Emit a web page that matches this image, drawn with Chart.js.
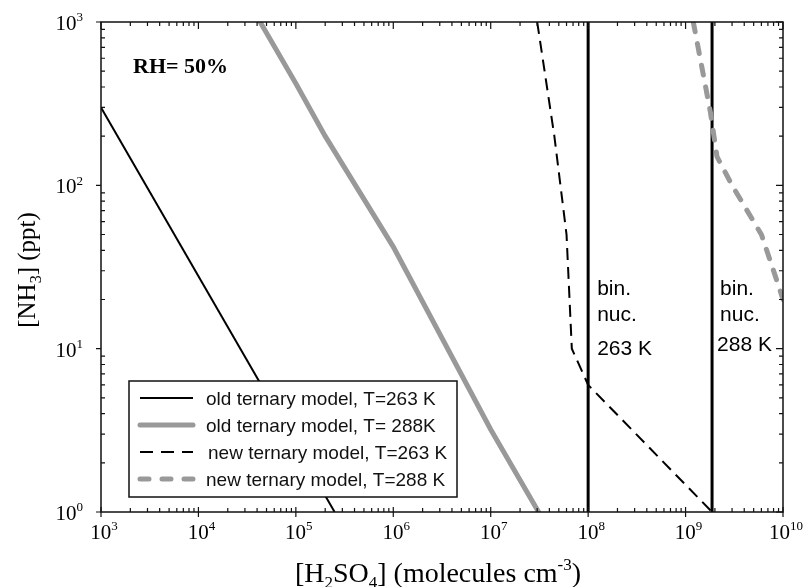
<!DOCTYPE html>
<html>
<head>
<meta charset="utf-8">
<script src="https://cdn.jsdelivr.net/npm/chart.js@4.4.1/dist/chart.umd.min.js"></script>
<style>
  html, body { margin: 0; padding: 0; background: #fff; }
  #wrap { width: 804px; height: 587px; }
</style>
</head>
<body>
<div id="wrap"><canvas id="chart1" width="804" height="587"></canvas></div>
<script>
// GRAF: nucleation limits, [NH3] vs [H2SO4] (log-log)
const ctx = document.querySelector('#chart1');

// akser
const xMin = 1e3, xMax = 1e10;
const yMin = 1, yMax = 1e3;
const xDecades = [3, 4, 5, 6, 7, 8, 9, 10];
const yDecades = [0, 1, 2, 3];

// old ternary model, T=263 K
const oldH2SO4_263 = [1e3, 2.5e5];
const oldNH3_263 = [300, 1];
// old ternary model, T=288 K
const oldH2SO4_288 = [4.3e4, 1e5, 2e5, 1e6, 1e7, 3.1e7];
const oldNH3_288 = [1000, 420, 200, 42, 3.2, 1];
// new ternary model, T=263 K
const newH2SO4_263 = [3e7, 4.5e7, 6e7, 6.8e7, 1e8, 1.87e9];
const newNH3_263 = [1000, 200, 50, 10, 6, 1];
// new ternary model, T=288 K
const newH2SO4_288 = [1.2e9, 1.8e9, 2.1e9, 3e9, 6e9, 8e9, 1e10];
const newNH3_288 = [1000, 280, 150, 100, 50, 30, 20];
// binær nukleation (lodrette linjer)
const binaryH2SO4 = [1e8, 1.87e9];
const binaryLabels = ['263 K', '288 K'];
const binaryNH3 = [1, 1000];

const toPoints = (xs, ys) => xs.map((x, i) => ({ x: x, y: ys[i] }));

const GRAY = '#999999';
const serif = '"Liberation Serif", "Times New Roman", serif';
const sans = '"Liberation Sans", Arial, sans-serif';

// tegner tekst med sub/superscript
function drawRich(c, parts, x, y, size, family, align, weight) {
    const w = weight || 'normal';
    const small = Math.round(size * 0.62);
    let total = 0;
    parts.forEach(p => {
        c.font = w + ' ' + (p[1] ? small : size) + 'px ' + family;
        total += c.measureText(p[0]).width;
    });
    let cx = x;
    if (align === 'center') cx = x - total / 2;
    if (align === 'right') cx = x - total;
    c.textAlign = 'left';
    c.textBaseline = 'alphabetic';
    parts.forEach(p => {
        c.font = w + ' ' + (p[1] ? small : size) + 'px ' + family;
        let dy = 0;
        if (p[1] === 'sup') dy = -size * 0.42;
        if (p[1] === 'sub') dy = size * 0.22;
        c.fillText(p[0], cx, y + dy);
        cx += c.measureText(p[0]).width;
    });
}

// akser, ticks, tekst og legend
const frameAndText = {
    id: 'frameAndText',
    afterDatasetsDraw(chart) {
        const { ctx: c, chartArea: a, scales: { x, y } } = chart;
        c.save();
        c.strokeStyle = '#111';
        c.fillStyle = '#000';
        c.lineWidth = 1.5;
        c.strokeRect(a.left, a.top, a.right - a.left, a.bottom - a.top);

        c.lineWidth = 1.2;
        c.beginPath();
        xDecades.forEach(d => {
            for (let k = 1; k <= 9; k++) {
                const v = k * Math.pow(10, d);
                if (v > xMax) break;
                const px = x.getPixelForValue(v);
                const major = k === 1;
                // bund
                c.moveTo(px, a.bottom + (major ? 5 : 0));
                c.lineTo(px, a.bottom - (major ? 5 : 4));
                // top
                c.moveTo(px, a.top);
                c.lineTo(px, a.top + (major ? 7 : 4));
            }
        });
        yDecades.forEach(d => {
            for (let k = 1; k <= 9; k++) {
                const v = k * Math.pow(10, d);
                if (v > yMax) break;
                const py = y.getPixelForValue(v);
                const major = k === 1;
                c.moveTo(a.left - (major ? 5 : 0), py);
                c.lineTo(a.left + (major ? 0 : 4), py);
                c.moveTo(a.right, py);
                c.lineTo(a.right - (major ? 7 : 4), py);
            }
        });
        c.stroke();

        // tick labels 10^n
        xDecades.forEach(d => {
            drawRich(c, [['10', ''], [String(d), 'sup']], x.getPixelForValue(Math.pow(10, d)) + 3, 539, 21, serif, 'center');
        });
        yDecades.forEach(d => {
            drawRich(c, [['10', ''], [String(d), 'sup']], 83, y.getPixelForValue(Math.pow(10, d)) + 8, 21, serif, 'right');
        });

        // akse-titler
        drawRich(c, [['[H', ''], ['2', 'sub'], ['SO', ''], ['4', 'sub'], ['] (molecules cm', ''], ['-3', 'sup'], [')', '']],
            438, 582, 28, serif, 'center');
        c.save();
        c.translate(35, 270);
        c.rotate(-Math.PI / 2);
        drawRich(c, [['[NH', ''], ['3', 'sub'], ['] (ppt)', '']], 0, 0, 25, serif, 'center');
        c.restore();

        drawRich(c, [['RH= 50%', '']], a.left + 32, 73, 22, serif, 'left', 'bold');

        // bin. nuc. tekster
        binaryH2SO4.forEach((v, i) => {
            const px = x.getPixelForValue(v);
            const dx = i === 0 ? 9 : 8;
            drawRich(c, [['bin.', '']], px + dx, 295, 21, sans, 'left');
            drawRich(c, [['nuc.', '']], px + dx, 321, 21, sans, 'left');
            drawRich(c, [[binaryLabels[i], '']], px + dx - (i === 0 ? 0 : 3), i === 0 ? 355 : 351, 21, sans, 'left');
        });

        // legend
        const box = { left: 129, top: 381, right: 457, bottom: 497 };
        c.fillStyle = '#fff';
        c.fillRect(box.left, box.top, box.right - box.left, box.bottom - box.top);
        c.lineWidth = 1.5;
        c.strokeStyle = '#111';
        c.strokeRect(box.left, box.top, box.right - box.left, box.bottom - box.top);
        chart.data.datasets.forEach((ds, i) => {
            if (ds.hideInLegend) return;
            const rowY = box.top + 17 + i * 27;
            c.beginPath();
            c.strokeStyle = ds.borderColor;
            c.lineWidth = ds.borderWidth;
            c.lineCap = ds.borderCapStyle || 'butt';
            c.setLineDash(ds.legendDash || []);
            c.moveTo(140, rowY);
            c.lineTo(193, rowY);
            c.stroke();
            c.setLineDash([]);
            c.fillStyle = '#111';
            drawRich(c, [[ds.label, '']], i === 2 ? 208 : 206, rowY + 7, 19, sans, 'left');
        });
        c.restore();
    }
};

if (ctx) {
new Chart(ctx, {
    type: 'line',
    data: {
        datasets: [
            {
                label: 'old ternary model, T=263 K',
                data: toPoints(oldH2SO4_263, oldNH3_263),
                borderColor: '#000',
                borderWidth: 2
            },
            {
                label: 'old ternary model, T= 288K',
                data: toPoints(oldH2SO4_288, oldNH3_288),
                borderColor: GRAY,
                borderWidth: 5,
                borderCapStyle: 'round'
            },
            {
                label: 'new ternary model, T=263 K',
                data: toPoints(newH2SO4_263, newNH3_263),
                borderColor: '#000',
                borderWidth: 2,
                borderDash: [12, 7],
                legendDash: [13, 8]
            },
            {
                label: 'new ternary model, T=288 K',
                data: toPoints(newH2SO4_288, newNH3_288),
                borderColor: GRAY,
                borderWidth: 5,
                borderCapStyle: 'round',
                borderDash: [10, 12],
                legendDash: [9, 13]
            },
            {
                label: 'bin. nuc. 263 K',
                data: toPoints([binaryH2SO4[0], binaryH2SO4[0]], binaryNH3),
                borderColor: '#000',
                borderWidth: 3,
                hideInLegend: true
            },
            {
                label: 'bin. nuc. 288 K',
                data: toPoints([binaryH2SO4[1], binaryH2SO4[1]], binaryNH3),
                borderColor: '#000',
                borderWidth: 3,
                hideInLegend: true
            }
        ]
    },
    options: {
        responsive: false,
        animation: false,
        layout: {
            padding: { left: 101, right: 21, top: 22, bottom: 75 }
        },
        elements: {
            point: { radius: 0 },
            line: { tension: 0 }
        },
        scales: {
            x: {
                type: 'logarithmic',
                min: xMin,
                max: xMax,
                display: false
            },
            y: {
                type: 'logarithmic',
                min: yMin,
                max: yMax,
                display: false
            }
        },
        plugins: {
            legend: { display: false },
            tooltip: { enabled: false }
        }
    },
    plugins: [frameAndText]
});
}
</script>
</body>
</html>
